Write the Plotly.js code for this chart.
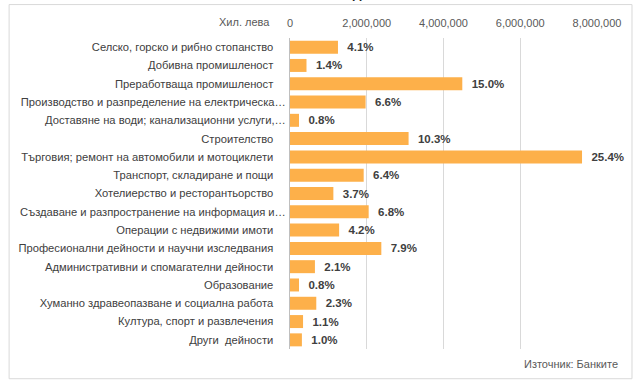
<!DOCTYPE html>
<html>
<head>
<meta charset="utf-8">
<script src="https://cdn.plot.ly/plotly-3.0.1.min.js"></script>
<style>html,body{margin:0;padding:0;background:#fff;}#chart{width:644px;height:380px;}</style>
</head>
<body>
<div id="chart"></div>
<script>
const categories = [
  "Селско, горско и рибно стопанство",
  "Добивна промишленост",
  "Преработваща промишленост",
  "Производство и разпределение на електрическа…",
  "Доставяне на води; канализационни услуги,…",
  "Строителство",
  "Търговия; ремонт на автомобили и мотоциклети",
  "Транспорт, складиране и пощи",
  "Хотелиерство и ресторантьорство",
  "Създаване и разпространение на информация и…",
  "Операции с недвижими имоти",
  "Професионални дейности и научни изследвания",
  "Административни и спомагателни дейности",
  "Образование",
  "Хуманно здравеопазване и социална работа",
  "Култура, спорт и развлечения",
  "Други  дейности"
];
const values = [1250000, 430000, 4490000, 1970000, 235000, 3090000, 7610000, 1920000, 1130000, 2050000, 1280000, 2380000, 650000, 235000, 685000, 340000, 310000];
const shares = ["4.1%", "1.4%", "15.0%", "6.6%", "0.8%", "10.3%", "25.4%", "6.4%", "3.7%", "6.8%", "4.2%", "7.9%", "2.1%", "0.8%", "2.3%", "1.1%", "1.0%"];
const tickVals = [0, 2000000, 4000000, 6000000, 8000000];
const tickText = ["0", "2,000,000", "4,000,000", "6,000,000", "8,000,000"];
const unitLabel = "Хил. лева";
const sourceLabel = "Източник: Банките";
const titleText = "по икономически дейности";

const FONT = "'Liberation Sans', Arial, sans-serif";

// truncated labels run up to the axis; full labels keep a gap
const catTickText = categories.map(c => c.endsWith('…') ? c : c + '\u00a0\u00a0\u00a0\u00a0');

const trace = {
  type: 'bar',
  orientation: 'h',
  y: categories,
  x: values,
  text: shares.map(s => '\u00a0\u00a0' + s),
  textposition: 'outside',
  cliponaxis: false,
  textfont: {family: FONT, size: 11.5, color: '#404040', weight: 'bold'},
  marker: {color: '#FDB04A'},
  hoverinfo: 'skip'
};

const layout = {
  width: 644, height: 380,
  margin: {l: 290, r: 47, t: 37.5, b: 30.8},
  paper_bgcolor: '#ffffff', plot_bgcolor: '#ffffff',
  showlegend: false,
  bargap: 0.29,
  font: {family: FONT, size: 11.2, color: '#404040'},
  xaxis: {
    side: 'top', range: [0, 8000000], tickvals: tickVals, ticktext: tickText,
    showgrid: true, gridcolor: '#D9D9D9', gridwidth: 1, zeroline: false,
    showline: false, ticks: '', ticklabelstandoff: 8,
    tickfont: {family: FONT, size: 11, color: '#595959'}, fixedrange: true
  },
  yaxis: {
    autorange: 'reversed', type: 'category', showgrid: false, zeroline: false,
    tickmode: 'array', tickvals: categories, ticktext: catTickText,
    showline: true, linecolor: '#BFBFBF', linewidth: 1, ticks: '', ticklabelstandoff: 1,
    tickfont: {family: FONT, size: 11.2, color: '#404040'}, fixedrange: true
  },
  shapes: [{
    type: 'rect', xref: 'paper', yref: 'paper',
    x0: -0.915, x1: 1.114, y0: -0.0956, y1: 1.1075,
    line: {color: '#D9D9D9', width: 1}, fillcolor: 'rgba(0,0,0,0)', layer: 'below'
  }],
  annotations: [
    {xref: 'paper', yref: 'paper', x: -0.058, y: 1.052, xanchor: 'right', yanchor: 'middle',
     text: unitLabel, showarrow: false, font: {family: FONT, size: 11, color: '#595959'}},
    {xref: 'paper', yref: 'paper', x: 1.075, y: -0.047, xanchor: 'right', yanchor: 'middle',
     text: sourceLabel, showarrow: false, font: {family: FONT, size: 11, color: '#595959'}},
    {xref: 'paper', yref: 'paper', x: 0.108, y: 1.1125, xanchor: 'center', yanchor: 'bottom',
     text: '<b>' + titleText + '</b>', showarrow: false, font: {family: FONT, size: 14, color: '#262626'}}
  ]
};

Plotly.newPlot('chart', [trace], layout, {displayModeBar: false, staticPlot: true});
</script>
</body>
</html>
